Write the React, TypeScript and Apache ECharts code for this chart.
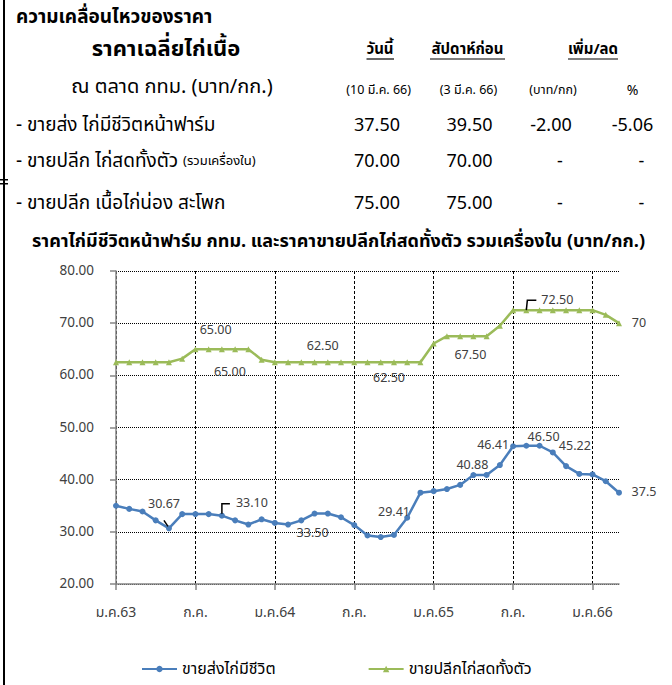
import React, { useEffect, useRef } from "react";
import * as echarts from "echarts";

const thaiMonths = ["ม.ค.", "ก.พ.", "มี.ค.", "เม.ย.", "พ.ค.", "มิ.ย.", "ก.ค.", "ส.ค.", "ก.ย.", "ต.ค.", "พ.ย.", "ธ.ค."];
const startYear = 63;
const monthCount = 39;
const xTickLabels = ["ม.ค.63", "ก.ค.", "ม.ค.64", "ก.ค.", "ม.ค.65", "ก.ค.", "ม.ค.66"];

const liveFarmPrice = [
  35.0, 34.4, 33.9, 32.2, 30.67, 33.4, 33.4, 33.4, 33.1, 32.2, 31.4, 32.4,
  31.7, 31.4, 32.2, 33.5, 33.5, 32.8, 31.3, 29.3, 29.0, 29.41, 32.7, 37.5,
  37.8, 38.2, 39.0, 40.88, 40.9, 42.8, 46.41, 46.5, 46.5, 45.22, 42.6, 41.1,
  41.0, 39.7, 37.5,
];
const retailWholePrice = [
  62.5, 62.5, 62.5, 62.5, 62.5, 63.2, 65, 65, 65, 65, 65, 63.0,
  62.5, 62.5, 62.5, 62.5, 62.5, 62.5, 62.5, 62.5, 62.5, 62.5, 62.5, 62.5,
  66.1, 67.5, 67.5, 67.5, 67.5, 69.5, 72.5, 72.5, 72.5, 72.5, 72.5, 72.5,
  72.5, 71.6, 70,
];

const seriesNames = ["ขายส่งไก่มีชีวิต", "ขายปลีกไก่สดทั้งตัว"];

const blueLabelIdx = [4, 8, 15, 21, 27, 30, 32, 33, 38];
const blueLabelText = ["30.67", "33.10", "33.50", "29.41", "40.88", "46.41", "46.50", "45.22", "37.5"];
const greenLabelIdx = [7, 8, 16, 21, 27, 31, 38];
const greenLabelText = ["65.00", "65.00", "62.50", "62.50", "67.50", "72.50", "70"];

const tableRows = ["- ขายส่ง ไก่มีชีวิตหน้าฟาร์ม", "- ขายปลีก ไก่สดทั้งตัว ", "- ขายปลีก เนื้อไก่น่อง สะโพก"];
const tableToday = ["37.50", "70.00", "75.00"];
const tableLastWeek = ["39.50", "70.00", "75.00"];
const tableDiff = ["-2.00", "-", "-"];
const tablePct = ["-5.06", "-", "-"];

const FONT = "Tahoma, 'Leelawadee UI', 'Noto Sans Thai', 'Noto Sans', sans-serif";

const categories: string[] = [];
for (let i = 0; i < monthCount; i++) {
  categories.push(thaiMonths[i % 12] + String(startYear + Math.floor(i / 12)));
}

// label placement (style, not data)
const blueOffsets: Record<number, [number, number]> = {
  4: [-5, -24], 8: [30, -12], 15: [-2, 20], 21: [0, -22], 27: [-1, -10],
  30: [-20, -1], 32: [4, -8], 33: [22, -6], 38: [25, 0],
};
const greenOffsets: Record<number, [number, number]> = {
  7: [7, -19], 8: [8, 23], 16: [-5, -16], 21: [-5, 16], 27: [-3, 19], 31: [31, -10], 38: [20, 0],
};

function buildData(values: number[], idxs: number[], texts: string[], offsets: Record<number, [number, number]>) {
  return values.map((v, i) => {
    const k = idxs.indexOf(i);
    if (k < 0) return v;
    return {
      value: v,
      label: {
        show: true,
        position: "inside",
        offset: offsets[i],
        formatter: texts[k],
        color: "#404040",
        fontSize: 12.5,
        fontFamily: FONT,
        textBorderWidth: 0,
      },
    };
  });
}

function txt(text: string, x: number, y: number, size: number, opts: any = {}) {
  return {
    type: "text",
    silent: true,
    style: {
      text,
      x,
      y,
      fontSize: size,
      fontFamily: FONT,
      fontWeight: opts.bold ? "bold" : "normal",
      fill: opts.color || "#000",
      textAlign: opts.align || "left",
      align: opts.align || "left",
      textVerticalAlign: "middle",
      verticalAlign: "middle",
    },
  };
}

function headerGraphics(): any[] {
  const g: any[] = [];
  g.push({ type: "rect", silent: true, shape: { x: 3, y: 0, width: 2, height: 685 }, style: { fill: "#000" } });
  g.push({ type: "rect", silent: true, shape: { x: 0, y: 179, width: 8, height: 1.5 }, style: { fill: "#000" } });
  g.push({ type: "rect", silent: true, shape: { x: 0, y: 183, width: 8, height: 1.5 }, style: { fill: "#000" } });

  g.push(txt("ความเคลื่อนไหวของราคา", 16, 17, 19, { bold: true }));
  g.push(txt("ราคาเฉลี่ยไก่เนื้อ", 166, 49, 22, { bold: true, align: "center" }));
  g.push(txt("วันนี้", 380, 49, 15, { bold: true, align: "center" }));
  g.push(txt("สัปดาห์ก่อน", 467.5, 49, 15, { bold: true, align: "center" }));
  g.push(txt("เพิ่ม/ลด", 593, 49, 15, { bold: true, align: "center" }));
  const ul = [[366.5, 394], [430, 505], [568, 618]];
  ul.forEach(([a, b]) =>
    g.push({ type: "line", silent: true, shape: { x1: a, y1: 59, x2: b, y2: 59 }, style: { stroke: "#000", lineWidth: 1.2 } })
  );
  g.push(txt("ณ ตลาด กทม. (บาท/กก.)", 172, 87, 20, { align: "center" }));
  g.push(txt("(10 มี.ค. 66)", 378.7, 90, 12.5, { align: "center" }));
  g.push(txt("(3 มี.ค. 66)", 468.5, 90, 12.5, { align: "center" }));
  g.push(txt("(บาท/กก)", 553, 90, 12.5, { align: "center" }));
  g.push(txt("%", 632.5, 90, 14, { align: "center" }));

  const rowY = [125, 161, 203];
  tableRows.forEach((r, i) => {
    if (i === 1) {
      g.push({
        type: "text",
        silent: true,
        style: {
          text: "{a|" + r + "}{b|(รวมเครื่องใน)}",
          x: 16,
          y: rowY[i],
          textVerticalAlign: "middle",
          verticalAlign: "middle",
          rich: {
            a: { fontSize: 19, fontFamily: FONT, fill: "#000", color: "#000" },
            b: { fontSize: 13, fontFamily: FONT, fill: "#000", color: "#000" },
          },
        },
      });
    } else {
      g.push(txt(r, 16, rowY[i], 19));
    }
    g.push(txt(tableToday[i], 377, rowY[i], 18, { align: "center" }));
    g.push(txt(tableLastWeek[i], 469.5, rowY[i], 18, { align: "center" }));
    g.push(txt(tableDiff[i], tableDiff[i] === "-" ? 560 : 551, rowY[i], 18, { align: "center" }));
    g.push(txt(tablePct[i], tablePct[i] === "-" ? 641.5 : 632.5, rowY[i], 18, { align: "center" }));
  });

  g.push(
    txt("ราคาไก่มีชีวิตหน้าฟาร์ม กทม. และราคาขายปลีกไก่สดทั้งตัว รวมเครื่องใน (บาท/กก.)", 338.5, 241, 18, {
      bold: true,
      align: "center",
    })
  );
  return g;
}

export default function App() {
  const ref = useRef<HTMLDivElement>(null);
  useEffect(() => {
    document.body.style.margin = "0";
    if (!ref.current) return;
    const chart = echarts.init(ref.current, undefined, { renderer: "svg" });
    const option: any = {
      animation: false,
      backgroundColor: "#fff",
      textStyle: { fontFamily: FONT },
      grid: { left: 116, top: 271, right: 53, bottom: 101, containLabel: false },
      legend: {
        left: 136,
        top: 656,
        itemGap: 92,
        itemWidth: 35,
        itemHeight: 8,
        textStyle: { fontSize: 16, color: "#000", fontFamily: FONT },
        data: seriesNames,
      },
      xAxis: {
        type: "category",
        data: categories,
        boundaryGap: false,
        axisLine: { lineStyle: { color: "#868686", width: 1.5 } },
        axisTick: { show: true, interval: 5, length: 6, lineStyle: { color: "#868686", width: 1.5 } },
        axisLabel: {
          interval: 5,
          margin: 21,
          fontSize: 14,
          color: "#404040",
          fontFamily: FONT,
          formatter: (_v: string, i: number) => (i % 6 === 0 ? xTickLabels[i / 6] : ""),
        },
        splitLine: { show: true, interval: 5, lineStyle: { color: "#000", type: [3, 2], width: 1 } },
      },
      yAxis: {
        type: "value",
        min: 20,
        max: 80,
        interval: 10,
        axisLine: { show: true, lineStyle: { color: "#868686", width: 1.5 } },
        axisTick: { show: true, length: 6, lineStyle: { color: "#868686", width: 1.5 } },
        axisLabel: {
          margin: 22,
          fontSize: 13.5,
          color: "#404040",
          fontFamily: FONT,
          formatter: (v: number) => v.toFixed(2),
        },
        splitLine: { show: true, lineStyle: { color: "#000", type: [1, 1], width: 1 } },
      },
      series: [
        {
          name: seriesNames[0],
          type: "line",
          data: buildData(liveFarmPrice, blueLabelIdx, blueLabelText, blueOffsets),
          symbol: "circle",
          symbolSize: 6,
          itemStyle: { color: "#4a7ebb" },
          lineStyle: { color: "#4a7ebb", width: 2.5 },
          z: 3,
        },
        {
          name: seriesNames[1],
          type: "line",
          data: buildData(retailWholePrice, greenLabelIdx, greenLabelText, greenOffsets),
          symbol: "triangle",
          symbolSize: 6,
          itemStyle: { color: "#9bbb59" },
          lineStyle: { color: "#9bbb59", width: 2.5 },
          z: 3,
        },
      ],
      graphic: { elements: headerGraphics() },
    };
    chart.setOption(option);

    // leader lines computed via the chart's own scales
    const leaders: any[] = [];
    const pt = (s: number, i: number, vals: number[]) =>
      chart.convertToPixel({ seriesIndex: s }, [i, vals[i]]) as number[];
    const mk = (p: number[], rel: number[][]) =>
      ({
        type: "polyline",
        silent: true,
        z: 10,
        shape: { points: rel.map(([dx, dy]) => [p[0] + dx, p[1] + dy]) },
        style: { stroke: "#000", lineWidth: 1.5, fill: "none" },
      });
    const a = pt(0, 4, liveFarmPrice);
    leaders.push(mk(a, [[-1, -2], [-5, -8]]));
    const b = pt(0, 8, liveFarmPrice);
    leaders.push(mk(b, [[0, -2], [0, -12], [8, -12]]));
    const c = pt(1, 31, retailWholePrice);
    leaders.push(mk(c, [[0, 0], [1, -10], [10, -10]]));
    chart.setOption({ graphic: { elements: [...headerGraphics(), ...leaders] } });

    return () => chart.dispose();
  }, []);
  return <div ref={ref} style={{ width: 672, height: 685 }} />;
}
